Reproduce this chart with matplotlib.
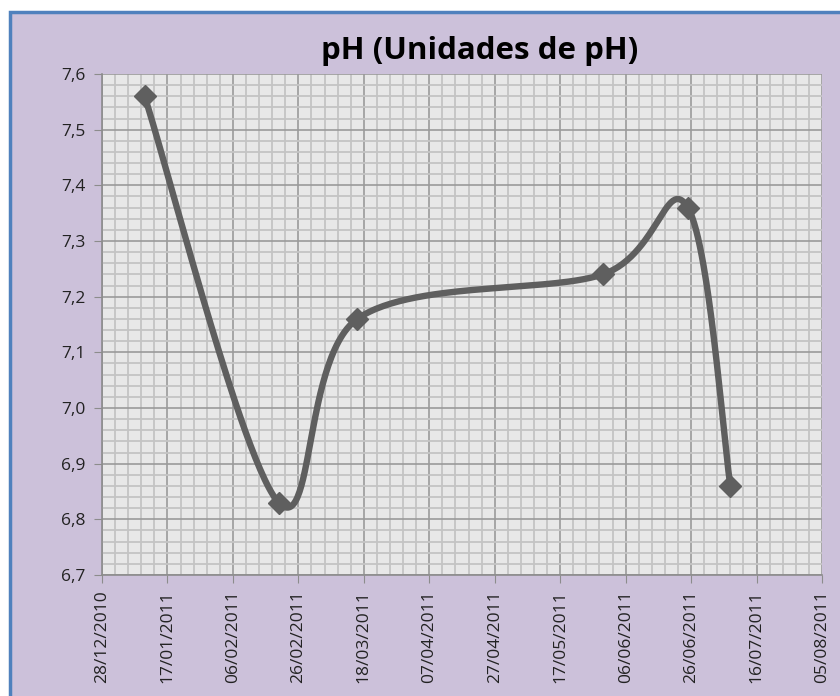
import numpy as np
import matplotlib.pyplot as plt
import matplotlib.dates as mdates
from matplotlib.ticker import FixedLocator, FuncFormatter, MultipleLocator
from matplotlib.patches import Rectangle
import datetime as dt

# --- data ---
DATES = ['2011-01-10', '2011-02-20', '2011-03-16', '2011-05-30', '2011-06-25', '2011-07-08']
PH = [7.56, 6.83, 7.16, 7.24, 7.36, 6.86]

X_START = dt.date(2010, 12, 28)
X_END = dt.date(2011, 8, 5)
Y_MIN, Y_MAX = 6.7, 7.6
TITLE = 'pH (Unidades de pH)'

x = mdates.date2num([np.datetime64(d) for d in DATES])
y = np.array(PH)
x0 = mdates.date2num(X_START)
x1 = mdates.date2num(X_END)


def excel_smooth(xs, ys, n=60):
    # Catmull-Rom style bezier, like Excel's "smoothed line"
    px = np.concatenate([[xs[0]], xs, [xs[-1]]])
    py = np.concatenate([[ys[0]], ys, [ys[-1]]])
    out_x, out_y = [], []
    t = np.linspace(0, 1, n)
    for i in range(1, len(px) - 2):
        p0 = np.array([px[i], py[i]])
        p3 = np.array([px[i + 1], py[i + 1]])
        c1 = p0 + (np.array([px[i + 1], py[i + 1]]) - np.array([px[i - 1], py[i - 1]])) / 6
        c2 = p3 - (np.array([px[i + 2], py[i + 2]]) - np.array([px[i], py[i]])) / 6
        b = ((1 - t) ** 3)[:, None] * p0 + (3 * (1 - t) ** 2 * t)[:, None] * c1 \
            + (3 * (1 - t) * t ** 2)[:, None] * c2 + (t ** 3)[:, None] * p3
        out_x.append(b[:, 0]); out_y.append(b[:, 1])
    return np.concatenate(out_x), np.concatenate(out_y)


sx, sy = excel_smooth(x, y)

plt.rcParams['font.family'] = ['Open Sans', 'DejaVu Sans']

fig = plt.figure(figsize=(8.4, 6.96), dpi=100, facecolor='white')
W, H = 840, 696

# chart area background + blue frame (runs off the right and bottom edges)
fig.patches.append(Rectangle((10 / W, -0.1), 1.2, 1.1 - 12 / H, transform=fig.transFigure,
                             facecolor='#CCC1DA', edgecolor='#4F81BD', linewidth=2.5,
                             zorder=-10))

ax = fig.add_axes([102 / W, (H - 575) / H, (822 - 102) / W, (575 - 74) / H])
ax.set_facecolor('#E8E8E8')

ax.set_xlim(x0, x1)
ax.set_ylim(Y_MIN, Y_MAX)

ax.xaxis.set_major_locator(FixedLocator(np.arange(x0, x1 + 0.5, 20)))
ax.xaxis.set_minor_locator(FixedLocator(np.arange(x0, x1 + 0.5, 4)))
ax.yaxis.set_major_locator(MultipleLocator(0.1))
ax.yaxis.set_minor_locator(MultipleLocator(0.02))

ax.xaxis.set_major_formatter(FuncFormatter(lambda v, p: mdates.num2date(v).strftime('%d/%m/%Y')))
ax.yaxis.set_major_formatter(FuncFormatter(lambda v, p: f'{v:.1f}'.replace('.', ',')))

ax.grid(which='minor', color='#C4C4C4', linewidth=1.3)
ax.grid(which='major', color='#9A9A9A', linewidth=1.2)
ax.set_axisbelow(True)

for s in ['top', 'right']:
    ax.spines[s].set_visible(False)
for s in ['left', 'bottom']:
    ax.spines[s].set_color('#8C8C8C')
    ax.spines[s].set_linewidth(1.2)

ax.tick_params(which='major', length=6, color='#8C8C8C', labelsize=12.5, labelcolor='#222222')
ax.tick_params(which='minor', length=0)
ax.tick_params(axis='x', rotation=90, pad=5)
ax.tick_params(axis='y', pad=6)

ax.plot(sx, sy, color='#5F5F5F', linewidth=4.6, solid_capstyle='round', zorder=3)
ax.plot(x, y, linestyle='none', marker='D', markersize=11, color='#5F5F5F', zorder=4)

fig.text(480 / W, 1 - 51 / H, TITLE, ha='center', va='center',
         fontsize=22.5, fontweight='bold', color='black')

fig.savefig('out.png', dpi=100, facecolor=fig.get_facecolor())
